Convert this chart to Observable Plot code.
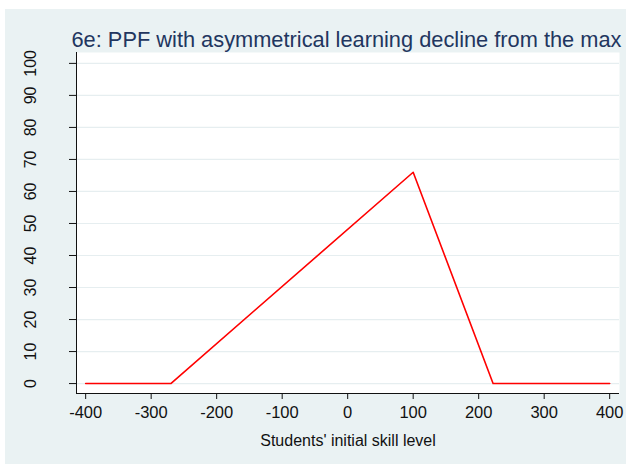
<!DOCTYPE html>
<html>
<head>
<meta charset="utf-8">
<script src="https://cdn.jsdelivr.net/npm/d3@7"></script>
<script src="https://cdn.jsdelivr.net/npm/@observablehq/plot@0.6"></script>
<style>
  html, body { margin: 0; padding: 0; background: #ffffff; }
  #wrap { position: relative; width: 626px; height: 464px; overflow: hidden; font-family: "Liberation Sans", Arial, sans-serif; }
  #panel { position: absolute; left: 5px; top: 9px; right: 0; bottom: 0; background: #EAF2F3; }
  #chart { position: absolute; left: 0; top: 0; }
</style>
</head>
<body>
<div id="wrap"><div id="panel"></div><div id="chart"></div></div>
<script>
// Data
const skill = [-400, -270, 100, 222, 400];
const learning = [0, 0, 66, 0, 0];
const xTicks = [-400, -300, -200, -100, 0, 100, 200, 300, 400];
const yTicks = [0, 10, 20, 30, 40, 50, 60, 70, 80, 90, 100];
const titleText = "6e: PPF with asymmetrical learning decline from the max";
const xTitle = "Students' initial skill level";

const points = skill.map((x, i) => ({x, y: learning[i]}));
const xDomain = [-414, 415];
const yDomain = [-3.1, 103.4];

const chart = Plot.plot({
  width: 626,
  height: 464,
  marginLeft: 76,
  marginRight: 7,
  marginTop: 52,
  marginBottom: 71,
  style: {background: "transparent", fontFamily: "'Liberation Sans', Arial, sans-serif", overflow: "visible"},
  x: {domain: xDomain},
  y: {domain: yDomain},
  marks: [
    Plot.frame({fill: "white", stroke: null}),
    Plot.gridY(yTicks, {stroke: "#E6EEF0", strokeOpacity: 1, strokeWidth: 1.2}),
    Plot.ruleX([xDomain[0]], {stroke: "#111", strokeWidth: 1}),
    Plot.ruleY([yDomain[0]], {stroke: "#111", strokeWidth: 1}),
    Plot.axisX(xTicks, {tickSize: 6, tickPadding: 7, fontSize: 16.5, fill: "#111", stroke: "#111", label: null, tickFormat: d => String(d)}),
    Plot.axisY(yTicks, {tickSize: 7, tickRotate: -90, tickPadding: 34, fontSize: 16, fill: "#111", stroke: "#111", label: null, tickFormat: d => String(d)}),
    Plot.line(points, {x: "x", y: "y", stroke: "#FF0000", strokeWidth: 1.6}),
    Plot.text([titleText], {frameAnchor: "top-left", textAnchor: "start", lineAnchor: "bottom", dx: -5, dy: -6, fontSize: 21.8, fill: "#22365F"}),
    Plot.text([xTitle], {frameAnchor: "bottom", textAnchor: "middle", lineAnchor: "bottom", dy: 52, fontSize: 16, fill: "#111"})
  ]
});
document.getElementById("chart").appendChild(chart);
</script>
</body>
</html>
